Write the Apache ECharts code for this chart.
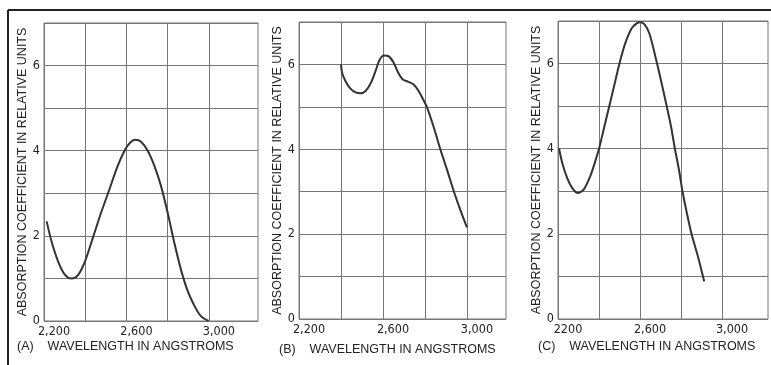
<!DOCTYPE html>
<html><head><meta charset="utf-8">
<script src="https://cdn.jsdelivr.net/npm/echarts@6/dist/echarts.min.js"></script>
<style>html,body{margin:0;padding:0;background:#fff}#c{width:771px;height:365px}</style>
</head><body><div id="c"></div>
<script>
// Wavelengths (Å) and absorption values
const wavelengthsA = [2213,2237,2269,2301,2333,2365,2398,2438,2478,2518,2558,2595,2622,2643,2671,2703,2735,2767,2799,2831,2863,2895,2927,2960,2998];
const absorptionA  = [2.34,1.86,1.39,1.09,1.00,1.08,1.39,1.97,2.56,3.10,3.65,4.04,4.21,4.26,4.21,4.00,3.65,3.18,2.56,1.86,1.23,0.73,0.38,0.12,0.00];

const wavelengthsB = [2400,2405,2421,2445,2470,2494,2518,2543,2567,2583,2604,2628,2651,2672,2693,2721,2745,2769,2794,2810,2840,2872,2905,2936,2968,3000];
const absorptionB  = [6.00,5.81,5.61,5.43,5.34,5.32,5.38,5.57,5.88,6.10,6.21,6.19,6.04,5.81,5.65,5.59,5.53,5.38,5.15,4.99,4.55,4.02,3.52,3.03,2.58,2.16];

const wavelengthsC = [2205,2221,2245,2269,2296,2325,2357,2380,2400,2425,2450,2475,2497,2526,2558,2585,2602,2622,2646,2683,2707,2730,2750,2770,2790,2807,2830,2851,2884,2913];
const absorptionC  = [4.01,3.66,3.31,3.08,2.96,3.04,3.35,3.68,4.00,4.50,5.00,5.50,5.95,6.45,6.82,6.95,6.97,6.92,6.70,6.00,5.50,5.00,4.55,4.00,3.50,3.00,2.45,2.00,1.44,0.88];

const gridXValues = [2200,2400,2600,2800,3000];
const xTickValues = [2200,2600,3000];
const xTickLabelsA = ['2,200','2,600','3,000'];
const xTickLabelsB = ['2,200','2,600','3,000'];
const xTickLabelsC = ['2200','2,600','3,000'];
const yTickValues = [0,2,4,6];
const yTickLabels = ['0','2','4','6'];
const panelCaptions = ['(A)    WAVELENGTH IN ANGSTROMS','(B)    WAVELENGTH IN ANGSTROMS','(C)    WAVELENGTH IN ANGSTROMS'];
const yAxisTitle = 'ABSORPTION COEFFICIENT IN RELATIVE UNITS';

const FONT = '"DejaVu Sans Condensed","Liberation Sans Narrow","Liberation Sans",sans-serif';
const FONT2 = '"Liberation Sans","DejaVu Sans",sans-serif';
const GRIDC = '#777';
const LINEC = '#333';

const grids = [
  {left:44, top:23, width:214, height:298, xmax:3238},
  {left:299, top:22, width:207, height:297, xmax:3186},
  {left:558, top:21, width:210, height:298, xmax:3224}
];
const xLabelSets = [xTickLabelsA, xTickLabelsB, xTickLabelsC];
const seriesData = [
  wavelengthsA.map((w,i)=>[w,absorptionA[i]]),
  wavelengthsB.map((w,i)=>[w,absorptionB[i]]),
  wavelengthsC.map((w,i)=>[w,absorptionC[i]])
];

const option = {
  backgroundColor:'#fff',
  animation:false,
  grid: grids.map(g=>({left:g.left, top:g.top, width:g.width, height:g.height, show:true, borderColor:GRIDC, borderWidth:1, backgroundColor:'transparent', containLabel:false})),
  xAxis: grids.map((g,k)=>({
    type:'value', gridIndex:k, min:2200, max:g.xmax,
    axisLine:{show:false},
    axisTick:{show:false, customValues:gridXValues},
    splitLine:{show:true, lineStyle:{color:GRIDC, width:1}},
    axisLabel:{customValues:xTickValues, margin:4, color:'#222', fontFamily:FONT, fontSize:12.5,
      padding:[0,0,0,20],
      formatter:(v)=>{const i=xTickValues.indexOf(v); return i>=0?xLabelSets[k][i]:'';}}
  })),
  yAxis: grids.map((g,k)=>({
    type:'value', gridIndex:k, min:0, max:7, interval:1,
    name:yAxisTitle, nameLocation:'middle', nameGap:15, nameRotate:90,
    nameTextStyle:{fontFamily:FONT2, fontSize:12.5, color:'#222'},
    axisLine:{show:false},
    axisTick:{show:false},
    splitLine:{show:true, lineStyle:{color:GRIDC, width:1}},
    axisLabel:{customValues:yTickValues, margin:4, color:'#222', fontFamily:FONT, fontSize:12.5,
      formatter:(v)=>{const i=yTickValues.indexOf(v); return i>=0?yTickLabels[i]:'';}}
  })),
  title: [
    {text:panelCaptions[0], left:17, top:340},
    {text:panelCaptions[1], left:279, top:343},
    {text:panelCaptions[2], left:538, top:340}
  ].map(t=>Object.assign(t,{padding:0, textStyle:{fontFamily:FONT2, fontSize:12.5, fontWeight:'normal', color:'#222'}})),
  graphic: [
    {type:'line', shape:{x1:8, y1:10, x2:8, y2:365}, style:{stroke:'#222', lineWidth:2}},
    {type:'line', shape:{x1:8, y1:10, x2:771, y2:10}, style:{stroke:'#222', lineWidth:2}}
  ],
  series: seriesData.map((d,k)=>({
    type:'line', xAxisIndex:k, yAxisIndex:k, data:d, smooth:0.3, showSymbol:false,
    lineStyle:{color:LINEC, width:2}, itemStyle:{color:LINEC}
  }))
};
echarts.init(document.getElementById('c'), null, {renderer:'canvas'}).setOption(option);
</script>
</body></html>
